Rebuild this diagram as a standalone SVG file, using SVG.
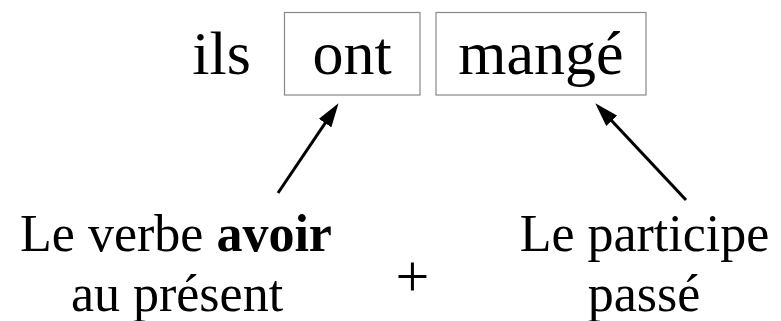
<svg xmlns="http://www.w3.org/2000/svg" width="781" height="321" viewBox="0 0 781 321">
<style>
text{font-family:"Liberation Serif","Times New Roman",serif;fill:#000;}
.big{font-size:62px;}
.lbl{font-size:52px;text-anchor:middle;}
.plus{font-size:60px;text-anchor:middle;}
.box{fill:#fff;stroke:#888;stroke-width:1.2;}
.arrow{stroke:#000;stroke-width:3;fill:none;marker-end:url(#ah);}
</style>
<defs>
<marker id="ah" markerUnits="userSpaceOnUse" markerWidth="24" markerHeight="15" refX="13" refY="7.5" orient="auto" viewBox="0 0 24 15">
<path d="M0,0 L24,7.5 L0,15 z" fill="#000"/>
</marker>
</defs>
<rect width="781" height="321" fill="#fff"/>
<g id="ils"><text class="big" x="221.5" y="74" text-anchor="middle">ils</text></g>
<g id="ont"><rect class="box" x="284.5" y="12.5" width="135.5" height="82.5"/><text class="big" x="352" y="74" text-anchor="middle">ont</text></g>
<g id="mange"><rect class="box" x="436" y="12.5" width="210" height="82.5"/><text class="big" x="541" y="74" text-anchor="middle">mangé</text></g>
<g id="avoir"><text class="lbl" x="176" y="251">Le verbe <tspan font-weight="bold">avoir</tspan></text><text class="lbl" x="177" y="311">au présent</text></g>
<g id="plus"><text class="plus" x="412.5" y="296">+</text></g>
<g id="participe"><text class="lbl" x="644.5" y="251">Le participe</text><text class="lbl" x="644" y="311">passé</text></g>
<g id="connectors">
<line class="arrow" x1="278" y1="193" x2="332.4" y2="112.3"/>
<line class="arrow" x1="686" y1="200" x2="602.8" y2="111.3"/>
</g>
</svg>
